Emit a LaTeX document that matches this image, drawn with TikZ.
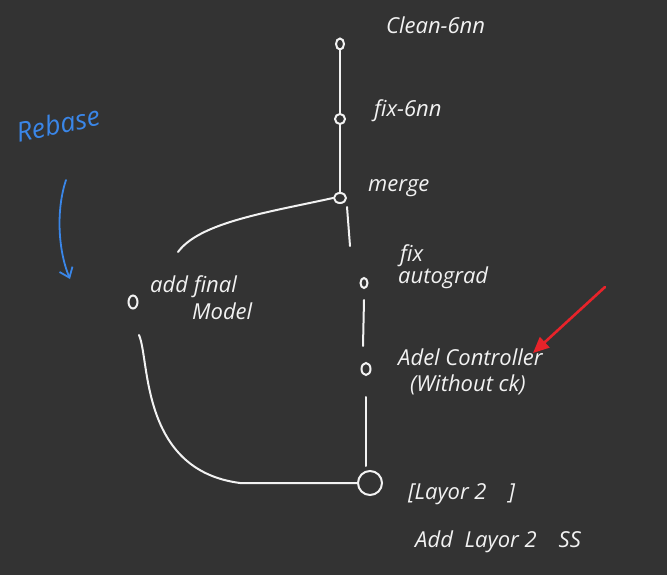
\documentclass[tikz,border=0pt]{standalone}
\usepackage{fontspec}
\setmainfont{Open Sans}
\usetikzlibrary{arrows.meta,shapes.geometric}
\definecolor{bg}{HTML}{333333}
\definecolor{ink}{HTML}{F2F2F2}
\definecolor{blueink}{HTML}{3A86E8}
\definecolor{redink}{HTML}{E8232A}
\begin{document}
\begin{tikzpicture}[x=1pt,y=-1pt,
  commit/.style={draw=ink,line width=2pt,ellipse,inner sep=0pt,minimum width=8pt,minimum height=11pt},
  bigcommit/.style={draw=ink,line width=2pt,circle,inner sep=0pt,minimum size=24pt},
  lbl/.style={text=ink,anchor=west,inner sep=0pt,font=\fontsize{22}{26}\selectfont\itshape},
  edge/.style={draw=ink,line width=2pt,line cap=round}]
\useasboundingbox[fill=bg] (0,0) rectangle (667,575);
% commits
\node[commit] (c1) at (340,44) {};
\node[commit,minimum width=10pt,minimum height=10pt] (c2) at (340,119) {};
\node[commit,minimum width=12pt,minimum height=10pt] (c3) at (340,198) {};
\node[commit,minimum width=9pt,minimum height=13pt] (c4) at (133,302) {};
\node[commit,minimum width=7pt,minimum height=10pt] (c5) at (364,283) {};
\node[commit,minimum width=9pt,minimum height=12pt] (c6) at (366,369) {};
\node[bigcommit] (c7) at (370,483) {};
% helper coordinates
\coordinate (m1) at (347,207);
\coordinate (m2) at (350,246);
\coordinate (b1) at (178,252);
\coordinate (f1) at (364,300);
\coordinate (f2) at (363,346);
\coordinate (a1) at (366,397);
\coordinate (a2) at (366,466);
\coordinate (d1) at (139,335);
% connectors
\draw[edge] (c1) -- (c2);
\draw[edge] (c2) -- (c3);
\draw[edge] (m1) -- (m2);
\draw[edge] (c3.west) .. controls (270,212) and (200,222) .. (b1);
\draw[edge] (f1) -- (f2);
\draw[edge] (a1) -- (a2);
\draw[edge] (d1) .. controls (150,360) and (140,470) .. (240,483) -- (c7.west);
% labels
\node[lbl] (t1) at (386,25) {Clean-6nn};
\node[lbl] (t2) at (374,111) {fix-6nn};
\node[lbl] (t3) at (368,188) {merge};
\node[lbl] (t4) at (150,287) {add final};
\node[lbl] (t5) at (192,311) {Model};
\node[lbl] (t6) at (400,256) {fix};
\node[lbl] (t7) at (398,278) {autograd};
\node[lbl] (t8) at (398,357) {Adel Controller};
\node[lbl] (t9) at (410,385) {(Without ck)};
\node[lbl] (t10) at (408,494) {[Layor 2\hspace{22pt}]};
\node[lbl] (t11) at (415,542) {Add\hspace{6pt} Layor 2\hspace{22pt}SS};
% rebase
\node[text=blueink,inner sep=0pt,rotate=12,font=\fontsize{27}{30}\selectfont\itshape] (rb) at (58,124) {Rebase};
\coordinate (r1) at (66,180);
\coordinate (r2) at (70,279);
\draw[blueink,line width=1.8pt,line cap=round,-{Straight Barb[length=9pt,width=14pt]}] (r1) .. controls (56,210) and (58,250) .. (r2);
% red arrow
\coordinate (q1) at (605,287);
\coordinate (q2) at (533,353);
\draw[redink,line width=2.6pt,line cap=round,-{Triangle[length=16pt,width=14pt]}] (q1) -- (q2);
\end{tikzpicture}
\end{document}
